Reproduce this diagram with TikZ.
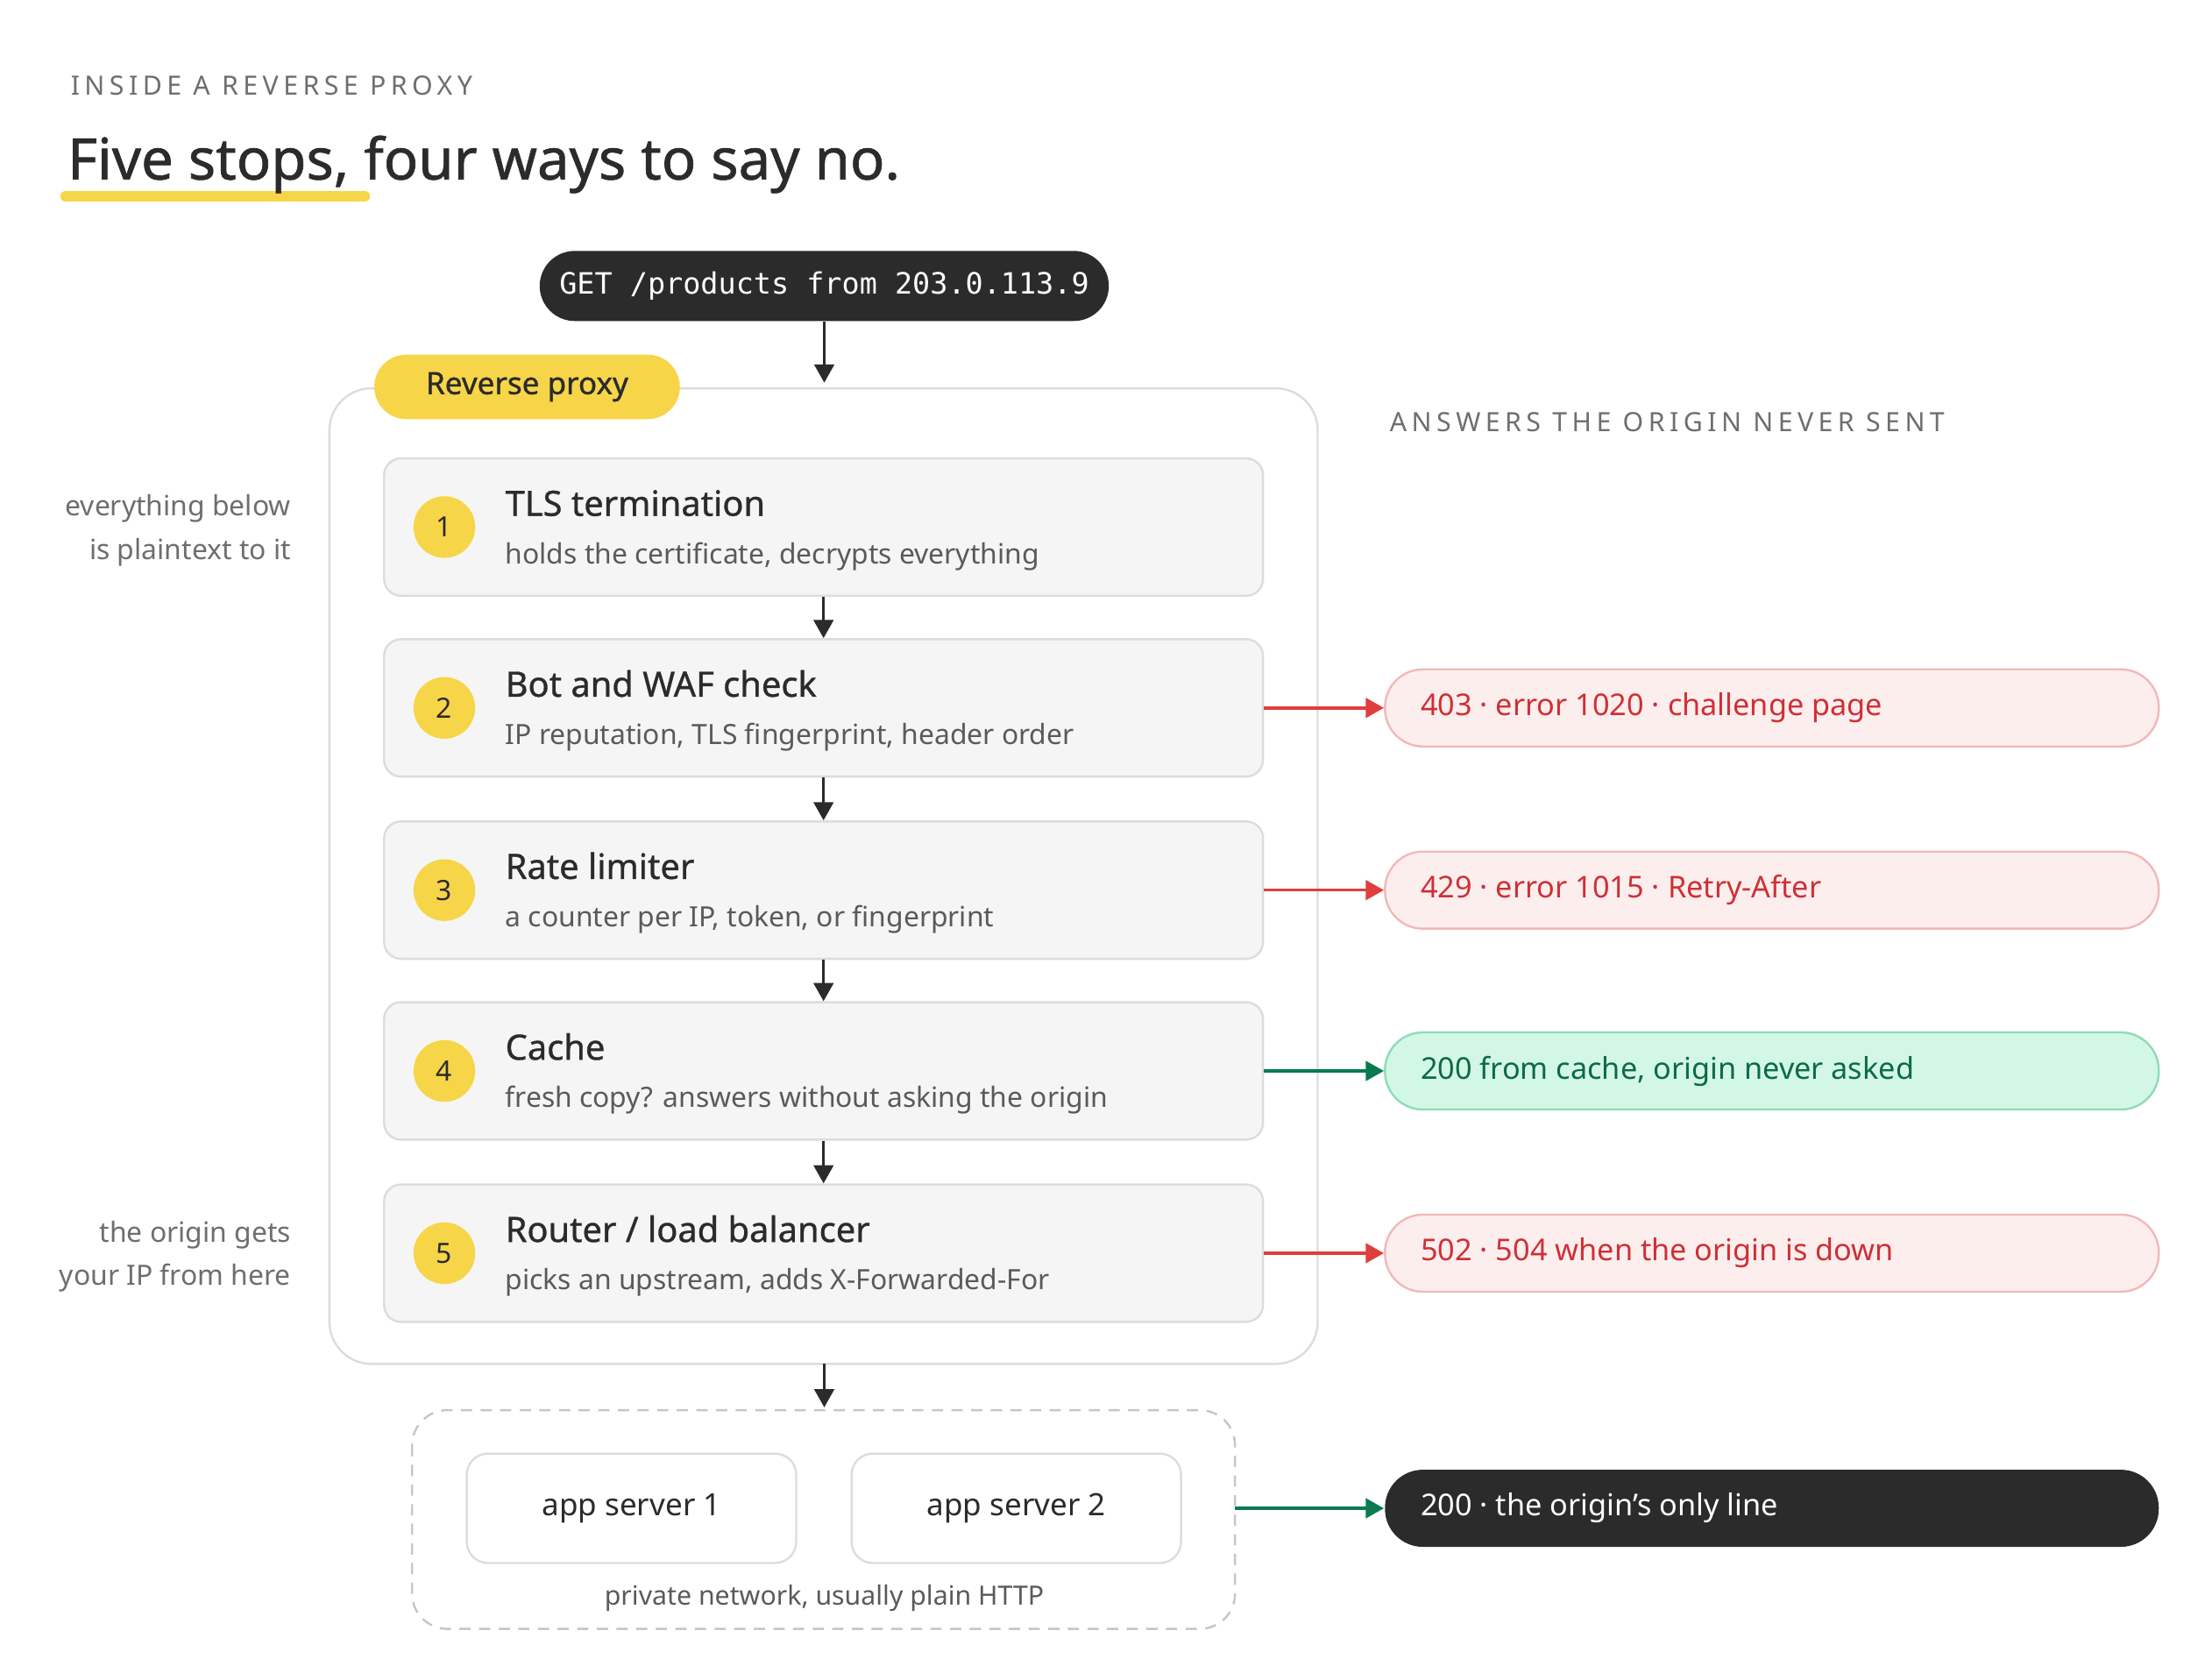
\documentclass[tikz,border=0pt]{standalone}
\usepackage{fontspec}
\setmainfont{Noto Sans}
\newfontfamily\monof{DejaVu Sans Mono}
\usetikzlibrary{arrows.meta}
\definecolor{ink}{HTML}{2B2B2B}
\definecolor{sub}{HTML}{5A5A5A}
\definecolor{gry}{HTML}{6E6E6E}
\definecolor{ylw}{HTML}{F7D548}
\definecolor{stg}{HTML}{F5F5F5}
\definecolor{bdr}{HTML}{DCDCDC}
\definecolor{rfill}{HTML}{FDEEEE}
\definecolor{rbdr}{HTML}{F2B8B8}
\definecolor{rtxt}{HTML}{CF2F35}
\definecolor{rarr}{HTML}{E03E3E}
\definecolor{gfill}{HTML}{D3F7E6}
\definecolor{gbdr}{HTML}{8FDCB8}
\definecolor{gtxt}{HTML}{0B6B45}
\definecolor{garr}{HTML}{0A7A50}
\tikzset{
 arr/.style={-{Triangle[length=13bp,width=14bp]},line width=2.2bp,draw=ink},
 rar/.style={arr,draw=rarr,fill=rarr},
 gar/.style={arr,draw=garr,fill=garr},
 stage/.style={draw=bdr,line width=1.5bp,fill=stg,rounded corners=12bp},
 num/.style={circle,fill=ylw,minimum size=44bp,inner sep=0,font=\bfseries\fontsize{20}{20}\selectfont,text=ink},
 stitle/.style={anchor=base west,text=ink,font=\fontsize{25}{25}\selectfont\addfontfeatures{FakeBold=0.8}},
 ssub/.style={anchor=base west,text=sub,font=\fontsize{20}{20}\selectfont},
 pill/.style={rounded corners=27bp,line width=1.5bp},
 ptxt/.style={anchor=west,font=\bfseries\fontsize{21.5}{21.5}\selectfont},
 note/.style={anchor=base east,text=gry,font=\fontsize{20}{20}\selectfont},
 kick/.style={anchor=base west,text=gry,font=\fontsize{19}{19}\selectfont\addfontfeatures{LetterSpace=18}\bfseries},
}
\begin{document}
\begin{tikzpicture}[x=1bp,y=-1bp]
\useasboundingbox[fill=white] (0,0) rectangle (1568,1198);
\node[kick] (kicker) at (47,68) {INSIDE A REVERSE PROXY};
\draw[ylw,line width=8bp,line cap=round] (47,140) -- (260,140);
\node[anchor=base west,text=ink,inner sep=0,font=\fontsize{41}{41}\selectfont\addfontfeatures{FakeBold=1}] (title) at (48,128) {Five stops, four ways to say no.};
% request
\node[fill=ink,rounded corners=25bp,minimum width=406bp,minimum height=50bp,text=white,font=\monof\fontsize{21}{21}\selectfont] (get) at (588,204) {GET /products from 203.0.113.9};
% container
\draw[draw=bdr,line width=1.5bp,fill=white,rounded corners=30bp] (235,277) rectangle (940,973);
\coordinate (ctop) at (588,273);
\coordinate (cbot) at (588,973);
\draw[arr] (get.south) -- (ctop);
\node[fill=ylw,rounded corners=23bp,minimum width=218bp,minimum height=46bp,text=ink,font=\fontsize{22}{22}\selectfont\addfontfeatures{FakeBold=1}] (rp) at (376,276) {Reverse proxy};
\node[kick] (answers) at (988,308) {ANSWERS THE ORIGIN NEVER SENT};
% stages
\foreach \i/\t/\s/\y in {1/{TLS termination}/{holds the certificate, decrypts everything}/376,
 2/{Bot and WAF check}/{IP reputation, TLS fingerprint, header order}/505,
 3/{Rate limiter}/{a counter per IP, token, or fingerprint}/635,
 4/{Cache}/{fresh copy? answers without asking the origin}/764,
 5/{Router / load balancer}/{picks an upstream, adds X-Forwarded-For}/894}{
 \node[stage,minimum width=627bp,minimum height=98bp] (s\i) at (587.5,\y) {};
 \node[num] (n\i) at (317,\y) {\i};
 \node[stitle] (t\i) at (357,\y-8) {\t};
 \node[ssub] (u\i) at (357,\y+26) {\s};
}
\foreach \a/\b in {1/2,2/3,3/4,4/5}{\draw[arr] (s\a.south) -- (s\b.north);}
% notes
\node[note] (na) at (211,368) {everything below};
\node[note] (nb) at (211,399) {is plaintext to it};
\node[note] (nc) at (211,886) {the origin gets};
\node[note] (nd) at (211,917) {your IP from here};
% results
\foreach \n/\y/\t in {r2/505/{403 · error 1020 · challenge page},r3/635/{429 · error 1015 · Retry-After},r5/894/{502 · 504 when the origin is down}}{
 \node[pill,draw=rbdr,fill=rfill,minimum width=552bp,minimum height=55bp] (\n) at (1264,\y) {};
 \node[ptxt,text=rtxt] at (1010,\y) {\t};
}
\node[pill,draw=gbdr,fill=gfill,minimum width=552bp,minimum height=55bp] (r4) at (1264,764) {};
\node[ptxt,text=gtxt] at (1010,764) {200 from cache, origin never asked};
\draw[rar] (s2.east) -- (r2.west);
\draw[rar] (s3.east) -- (r3.west);
\draw[gar] (s4.east) -- (r4.west);
\draw[rar] (s5.east) -- (r5.west);
% origin
\draw[draw=bdr!90!black,line width=1.5bp,dash pattern=on 8bp off 6bp,rounded corners=25bp] (294,1006) rectangle (881,1162);
\coordinate (net) at (881,1076);
\coordinate (nettop) at (588,1004);
\draw[arr] (cbot) -- (nettop);
\node[draw=bdr,line width=1.5bp,fill=white,rounded corners=15bp,minimum width=235bp,minimum height=78bp,text=ink,font=\fontsize{22}{22}\selectfont] (a1) at (450.5,1076) {app server 1};
\node[draw=bdr,line width=1.5bp,fill=white,rounded corners=15bp,minimum width=235bp,minimum height=78bp,text=ink,font=\fontsize{22}{22}\selectfont] (a2) at (725,1076) {app server 2};
\node[text=sub,font=\fontsize{19}{19}\selectfont] (pn) at (588,1140) {private network, usually plain HTTP};
\node[pill,fill=ink,minimum width=552bp,minimum height=55bp] (r6) at (1264,1076) {};
\node[ptxt,text=white] at (1010,1076) {200 · the origin's only line};
\draw[gar] (net) -- (r6.west);
\end{tikzpicture}
\end{document}
